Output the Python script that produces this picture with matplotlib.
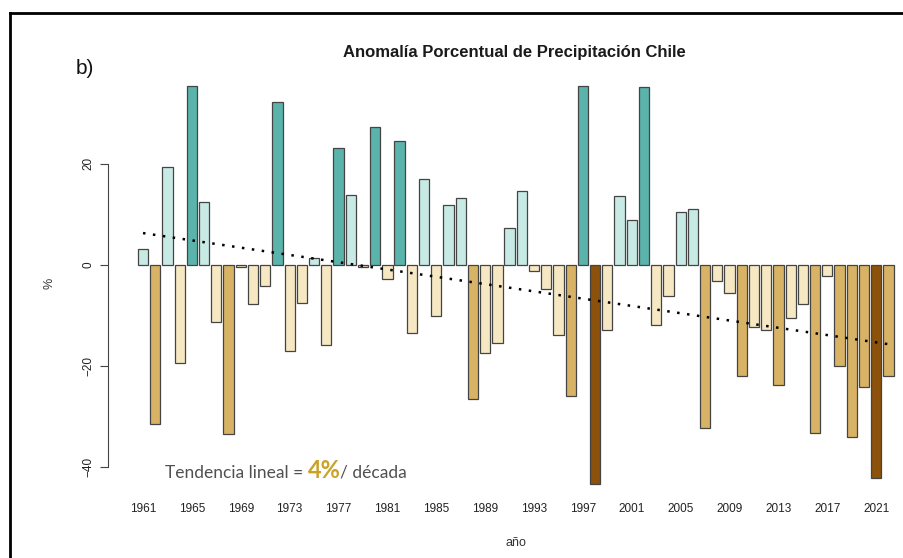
import numpy as np
import matplotlib.pyplot as plt
from matplotlib.lines import Line2D

# === Daten ===
years = np.arange(1961, 2023)
anomaly = [3.1, -31.5, 19.4, -19.5, 35.3, 12.4, -11.4, -33.5, -0.4, -7.8,
           -4.3, 32.2, -17.1, -7.5, 1.3, -15.9, 23.1, 13.8, -0.5, 27.3,
           -2.8, 24.4, -13.4, 17.0, -10.1, 11.8, 13.2, -26.5, -17.5, -15.4,
           7.3, 14.5, -1.2, -4.8, -13.9, -25.9, 35.4, -43.4, -13.0, 13.6,
           8.8, 35.1, -11.9, -6.2, 10.4, 11.1, -32.2, -3.2, -5.5, -22.0,
           -12.4, -13.0, -23.8, -10.5, -7.8, -33.3, -2.3, -20.0, -34.1, -24.1,
           -42.2, -22.0]
tick_years = years[::4]

# === Farben (BrBG) ===
def bar_color(v):
    if v > 20:
        return '#5AB4AC'
    if v > 0:
        return '#C7EAE5'
    if v > -20:
        return '#F6E8C3'
    if v > -40:
        return '#D8B365'
    return '#8C510A'

colors = [bar_color(v) for v in anomaly]

# === Trend ===
coef = np.polyfit(years, anomaly, 1)
trend = np.polyval(coef, years)

# === Plot ===
W, H = 904, 558
fig = plt.figure(figsize=(W / 100, H / 100), dpi=100)
plt.rcParams['font.family'] = ['Liberation Sans', 'DejaVu Sans']

px_year = 12.22
x_left_px, x_right_px = 108, 900
y0_px, px_unit = 264.7, 5.06
ymax, ymin = 38, -46
ax_top = y0_px - ymax * px_unit
ax_bot = y0_px - ymin * px_unit
ax = fig.add_axes([x_left_px / W, 1 - ax_bot / H,
                   (x_right_px - x_left_px) / W, (ax_bot - ax_top) / H])
ax.set_xlim(1961 - (143 - x_left_px) / px_year, 1961 + (x_right_px - 143) / px_year)
ax.set_ylim(ymin, ymax)

ax.bar(years, anomaly, width=0.84, color=colors, edgecolor='#444444', linewidth=0.9)
ax.plot(years, trend, color='black', linestyle=(0, (1, 3)), linewidth=1.8)

# Achsen im R-Stil
for s in ['top', 'right', 'bottom']:
    ax.spines[s].set_visible(False)
ax.spines['left'].set_bounds(-40, 20)
ax.spines['left'].set_color('#444444')
ax.set_yticks([-40, -20, 0, 20])
ax.tick_params(axis='y', direction='out', length=6, color='#444444',
               labelsize=8.5, labelcolor='#222222', pad=4)
for lab in ax.get_yticklabels():
    lab.set_rotation(90)
    lab.set_va('center')
ax.set_xticks(tick_years)
ax.set_xticklabels([str(y) for y in tick_years])
ax.tick_params(axis='x', length=0, labelsize=8.5, labelcolor='#222222', pad=4)

# Texte
fig.text(514 / W, 1 - 53 / H, 'Anomalía Porcentual de Precipitación Chile',
         ha='center', va='center', fontsize=12, fontweight='bold', color='#1a1a1a')
fig.text(516 / W, 1 - 543 / H, 'año', ha='center', va='center', fontsize=9, color='#333333')
fig.text(50 / W, 1 - 283 / H, '%', ha='center', va='center', fontsize=9,
         rotation=90, color='#333333')
fig.text(76 / W, 1 - 68 / H, 'b)', ha='left', va='center', fontsize=15, color='#111111')

t1 = fig.text(165 / W, 1 - 473 / H, 'Tendencia lineal = ', ha='left', va='center',
              fontsize=12.5, color='#505050', family=['Lato', 'DejaVu Sans'])
t2 = fig.text(0, 0, '4%', ha='left', va='center', fontsize=17, fontweight='bold',
              color='#C9A227', family=['Lato', 'DejaVu Sans'])
t3 = fig.text(0, 0, '/ década', ha='left', va='center', fontsize=12.5,
              color='#505050', family=['Lato', 'DejaVu Sans'])
fig.canvas.draw()
r = fig.canvas.get_renderer()
bb1 = t1.get_window_extent(r)
t2.set_position((bb1.x1 / W, 1 - 471 / H))
fig.canvas.draw()
bb2 = t2.get_window_extent(r)
t3.set_position((bb2.x1 / W, 1 - 473 / H))

# Rahmen (Screenshot)
fig.add_artist(Line2D([10 / W, 10 / W], [0, 1 - 13 / H], color='black', linewidth=2))
fig.add_artist(Line2D([10 / W, 1], [1 - 13 / H, 1 - 13 / H], color='black', linewidth=2))

fig.savefig('out.png', dpi=100)
